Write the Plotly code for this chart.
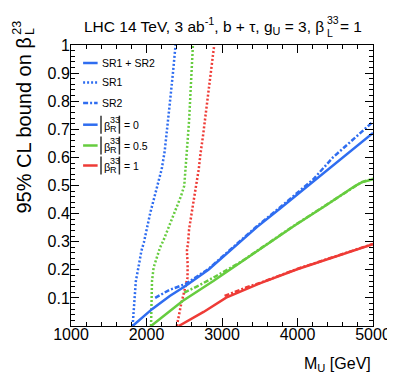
import plotly.graph_objects as go

# --- data (M_U in GeV, bound on beta_L^23) ---
# SR1 only (dotted)
m_sr1_b = [1816, 1837, 1859, 1901, 1932, 1965, 2000, 2051, 2103, 2158, 2201, 2240, 2275, 2308, 2350, 2385]
b_sr1_b = [0.0, 0.077, 0.16, 0.22, 0.267, 0.297, 0.344, 0.404, 0.457, 0.51, 0.558, 0.62, 0.70, 0.79, 0.90, 1.0]
m_sr1_g = [2060, 2066, 2073, 2094, 2137, 2179, 2225, 2265, 2329, 2393, 2458, 2500, 2513, 2530, 2564, 2615]
b_sr1_g = [0.0, 0.08, 0.16, 0.208, 0.243, 0.279, 0.305, 0.332, 0.38, 0.421, 0.463, 0.499, 0.546, 0.611, 0.73, 1.0]
m_sr1_r = [2402, 2458, 2513, 2543, 2545, 2535, 2551, 2564, 2606, 2650, 2692, 2714, 2750, 2897]
b_sr1_r = [0.0, 0.077, 0.137, 0.172, 0.22, 0.267, 0.297, 0.344, 0.415, 0.486, 0.558, 0.611, 0.68, 1.0]

# SR2 only (dash-dot)
m_sr2_b = [2115, 2300, 2521, 2820, 3462, 3782, 4209, 4466, 5000]
b_sr2_b = [0.100, 0.128, 0.150, 0.203, 0.355, 0.425, 0.522, 0.599, 0.727]
m_sr2_g = [2500, 2700, 2885, 3250, 3953, 4359, 4765, 4850, 5000]
b_sr2_g = [0.119, 0.145, 0.172, 0.228, 0.357, 0.427, 0.500, 0.512, 0.524]
m_sr2_r = [3034, 3200, 3320, 3500, 3996, 5000]
b_sr2_r = [0.107, 0.125, 0.137, 0.153, 0.203, 0.292]

# SR1 + SR2 combined (solid)
m_comb_b = [1816, 2073, 2308, 2521, 2820, 3462, 3782, 4209, 5000]
b_comb_b = [0.0, 0.06, 0.107, 0.143, 0.2, 0.352, 0.421, 0.515, 0.687]
m_comb_g = [2060, 2478, 2885, 3500, 3953, 4359, 4765, 4850, 5000]
b_comb_g = [0.0, 0.089, 0.16, 0.273, 0.356, 0.426, 0.499, 0.511, 0.522]
m_comb_r = [2427, 2756, 3055, 3500, 3996, 5000]
b_comb_r = [0.0, 0.05, 0.101, 0.152, 0.202, 0.291]

x_ticks = [1000, 2000, 3000, 4000, 5000]
y_ticks = [0.1, 0.2, 0.3, 0.4, 0.5, 0.6, 0.7, 0.8, 0.9, 1.0]
y_labels = ["0.1", "0.2", "0.3", "0.4", "0.5", "0.6", "0.7", "0.8", "0.9", "1"]
beta_r_values = ["0", "0.5", "1"]

BLUE = "#2f6df0"
GREEN = "#66cc3f"
RED = "#ee3b36"
FONT = "Liberation Sans, Arial, sans-serif"
DOT = "2px,2px"
DASHDOT = "5px,2px,2px,2px"

# plot area in pixels (for placing the hand-made legend / titles)
L, R, T, B = 63, 375, 37, 318


def px(x):
    return (x - L) / (R - L)


def py(y):
    return (B - y) / (B - T)


fig = go.Figure()

for m, b, c in [(m_sr1_b, b_sr1_b, BLUE), (m_sr1_g, b_sr1_g, GREEN), (m_sr1_r, b_sr1_r, RED)]:
    fig.add_trace(go.Scatter(x=m, y=b, mode="lines", line=dict(color=c, width=2.5, dash=DOT)))
for m, b, c in [(m_sr2_b, b_sr2_b, BLUE), (m_sr2_g, b_sr2_g, GREEN), (m_sr2_r, b_sr2_r, RED)]:
    fig.add_trace(go.Scatter(x=m, y=b, mode="lines", line=dict(color=c, width=2.5, dash=DASHDOT)))
for m, b, c in [(m_comb_b, b_comb_b, BLUE), (m_comb_g, b_comb_g, GREEN), (m_comb_r, b_comb_r, RED)]:
    fig.add_trace(go.Scatter(x=m, y=b, mode="lines", line=dict(color=c, width=2.5)))

annotations = []
shapes = []


def text(s, x, y, size, xanchor="left", yanchor="middle", angle=0):
    annotations.append(dict(
        text=s, x=px(x), y=py(y), xref="paper", yref="paper",
        xanchor=xanchor, yanchor=yanchor, showarrow=False, textangle=angle,
        font=dict(family=FONT, size=size, color="black")))


# title
text("LHC 14 TeV, 3 ab<sup>-1</sup>, b + τ, g<sub>U</sub> = 3, β", 326, 18, 15.5, xanchor="right")
text("33", 325, 12, 10.5)
text("L", 325, 25, 10.5)
text("= 1", 339, 18, 15.5)

# axis titles
text("95% CL bound on β", 14, 208, 20, xanchor="center", yanchor="bottom", angle=-90)
text("23", 7, 29, 12.5, xanchor="center", yanchor="bottom", angle=-90)
text("L", 20, 29, 12.5, xanchor="center", yanchor="bottom", angle=-90)
text("M<sub>U</sub> [GeV]", 375, 357, 16, xanchor="right")

# legend
rows = [55, 74.5, 95, 116.7, 137.5, 157.5]
samples = [(BLUE, "solid"), (BLUE, DOT), (BLUE, DASHDOT), (BLUE, "solid"), (GREEN, "solid"), (RED, "solid")]
for yc, (c, d) in zip(rows, samples):
    shapes.append(dict(type="line", xref="paper", yref="paper", x0=px(75.5), x1=px(90.5),
                       y0=py(yc), y1=py(yc), line=dict(color=c, width=2.5, dash=d)))
text("SR1 + SR2", 92.5, rows[0], 10.5)
text("SR1", 92.5, rows[1], 10.5)
text("SR2", 92.5, rows[2], 10.5)
for yc, v in zip(rows[3:], beta_r_values):
    for xb in (94, 113):
        shapes.append(dict(type="line", xref="paper", yref="paper", x0=px(xb), x1=px(xb),
                           y0=py(yc - 9), y1=py(yc + 9), line=dict(color="#333333", width=1.5)))
    text("β", 95.5, yc + 1, 11)
    text("33", 101.5, yc - 4.5, 9)
    text("R", 101.5, yc + 4.5, 9)
    text("= " + v, 116, yc, 10.5)

axis_common = dict(
    showline=True, linecolor="black", linewidth=1, mirror="allticks",
    ticks="inside", ticklen=8, tickwidth=1, tickcolor="black",
    showgrid=False, zeroline=False,
    tickfont=dict(family=FONT, size=16, color="black"),
)

fig.update_layout(
    width=395, height=379,
    margin=dict(l=L, r=395 - R, t=T, b=379 - B),
    paper_bgcolor="white", plot_bgcolor="white",
    showlegend=False,
    annotations=annotations, shapes=shapes,
    xaxis=dict(range=[1000, 5000], tickvals=x_ticks, ticklabelstandoff=-6,
               minor=dict(ticks="inside", ticklen=4, dtick=200, tick0=1000, tickcolor="black"),
               **axis_common),
    yaxis=dict(range=[0, 1], tickvals=y_ticks, ticktext=y_labels, ticklabelstandoff=-3,
               minor=dict(ticks="inside", ticklen=4, dtick=0.02, tick0=0, tickcolor="black"),
               **axis_common),
)

fig.write_html("out.html")
